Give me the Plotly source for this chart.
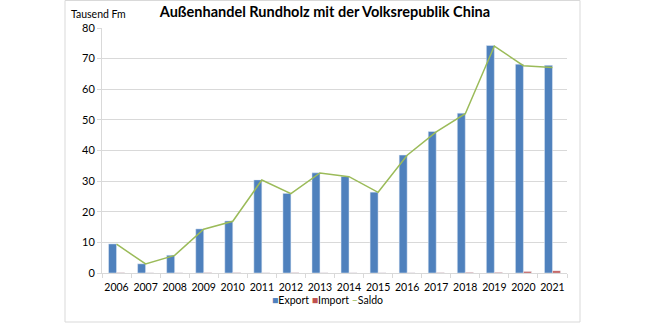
import plotly.graph_objects as go

years = [str(y) for y in range(2006, 2022)]
export = [9.5, 3.0, 5.8, 14.4, 17.0, 30.4, 26.0, 32.7, 31.5, 26.4, 38.5, 46.2, 52.2, 74.3, 68.2, 67.8]
import_ = [0.1, 0.05, 0.05, 0.1, 0.1, 0.05, 0.1, 0.05, 0.05, 0.05, 0.05, 0.1, 0.2, 0.2, 0.5, 0.7]
saldo = [e - i for e, i in zip(export, import_)]

title_text = "Außenhandel Rundholz mit der Volksrepublik China"
unit_text = "Tausend Fm"
series_names = ["Export", "Import", "Saldo"]
series_colors = ["#4F81BD", "#C0504D", "#9BBB59"]

FONT = "Lato"

fig = go.Figure()
fig.add_trace(go.Bar(x=years, y=export, name=series_names[0], marker_color=series_colors[0]))
fig.add_trace(go.Bar(x=years, y=import_, name=series_names[1], marker_color=series_colors[1]))
fig.add_trace(go.Scatter(x=years, y=saldo, name=series_names[2], mode="lines",
                         line=dict(color=series_colors[2], width=1.5)))

legend_text = (
    f"<span style='color:{series_colors[0]}'>■</span>{series_names[0]} "
    f"<span style='color:{series_colors[1]}'>■</span>{series_names[1]} "
    f"<span style='color:{series_colors[2]}'>–</span>{series_names[2]}"
)

fig.update_layout(
    width=646, height=323,
    margin=dict(l=102, r=79, t=28, b=50),
    paper_bgcolor="white", plot_bgcolor="white",
    barmode="group", bargap=0.45, bargroupgap=0,
    font=dict(family=FONT, size=11, color="#000000"),
    title=dict(text="<b>" + title_text + "</b>", x=0.503, xanchor="center",
               y=0.962, yanchor="middle", font=dict(size=14.5, family=FONT, color="#000")),
    showlegend=False,
    xaxis=dict(type="category", showgrid=False, showline=True, linecolor="#d9d9d9",
               ticks="outside", tickson="boundaries", ticklen=4, tickcolor="#d9d9d9",
               tickangle=0, tickfont=dict(size=10.5), ticklabelstandoff=4),
    yaxis=dict(range=[0, 80], dtick=10, showgrid=True, gridcolor="#d9d9d9", gridwidth=1,
               showline=True, linecolor="#d9d9d9", ticks="outside", ticklen=4,
               tickcolor="#d9d9d9", zeroline=False, tickfont=dict(size=11)),
    annotations=[
        dict(text=unit_text, xref="paper", yref="paper", x=-0.072, y=1.058,
             xanchor="left", yanchor="middle", showarrow=False,
             font=dict(size=10.5, family=FONT)),
        dict(text=legend_text, xref="paper", yref="paper", x=0.485, y=-0.11,
             xanchor="center", yanchor="middle", showarrow=False,
             font=dict(size=10.5, family=FONT)),
    ],
    shapes=[dict(type="rect", xref="paper", yref="paper",
                 x0=(65 - 102) / 465, x1=(580 - 102) / 465,
                 y0=(273 - 322) / 245, y1=(273 - 0.5) / 245,
                 line=dict(color="#d9d9d9", width=1), layer="below")],
)

fig.write_html("out.html")
